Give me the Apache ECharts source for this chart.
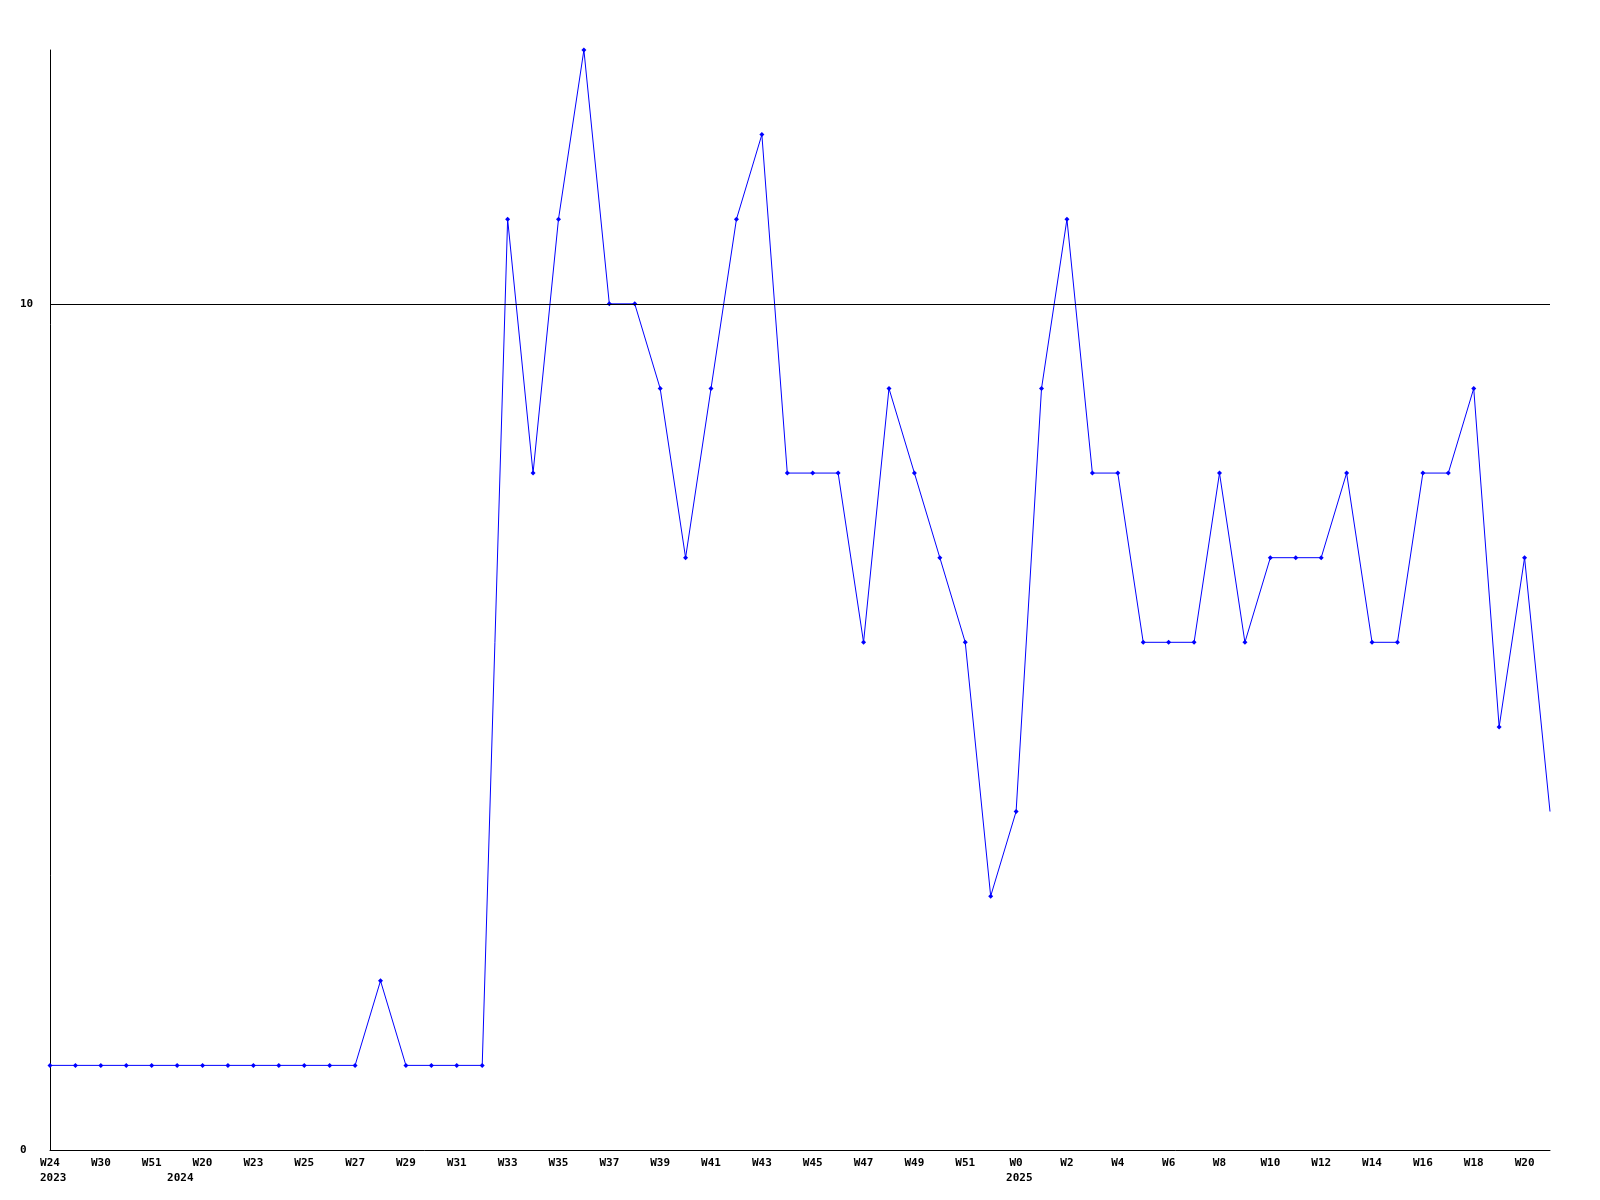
<!DOCTYPE html>
<html>
<head>
<meta charset="utf-8">
<script src="https://cdn.jsdelivr.net/npm/echarts@6/dist/echarts.min.js"></script>
<style>
html,body{margin:0;padding:0;background:#fff;}
#chart{width:1600px;height:1200px;}
</style>
</head>
<body>
<div id="chart"></div>
<script>
const weeks = ['W24','W27','W30','W40','W51','W10','W20','W22','W23','W24',
  'W25','W26','W27','W28','W29','W30','W31','W32','W33','W34',
  'W35','W36','W37','W38','W39','W40','W41','W42','W43','W44',
  'W45','W46','W47','W48','W49','W50','W51','W52','W0','W1',
  'W2','W3','W4','W5','W6','W7','W8','W9','W10','W11',
  'W12','W13','W14','W15','W16','W17','W18','W19','W20','W21'];
const yearIndex = [0, 5, 38];
const yearText = ['2023', '2024', '2025'];
const values = [1,1,1,1,1,1,1,1,1,1,
  1,1,1,2,1,1,1,1,11,8,
  11,13,10,10,9,7,9,11,12,8,
  8,8,6,9,8,7,6,3,4,9,
  11,8,8,6,6,6,8,6,7,7,
  7,8,6,6,8,8,9,5,7,4];
const yTicks = [0, 10];
const refLine = 10;

const chart = echarts.init(document.getElementById('chart'));
const font = '"DejaVu Sans Mono", "Liberation Mono", monospace';
const labelStyle = {color: '#000', fontFamily: font, fontWeight: 'bold', fontSize: 11};
chart.setOption({
  animation: false,
  backgroundColor: '#ffffff',
  grid: [
    {left: 50, right: 50, top: 50, bottom: 50, containLabel: false},
    {left: 40, right: 60, top: 50, bottom: 50, containLabel: false}
  ],
  xAxis: [{
    type: 'category',
    gridIndex: 0,
    data: weeks,
    boundaryGap: false,
    axisLine: {lineStyle: {color: '#000', width: 1}},
    axisTick: {show: false},
    axisLabel: Object.assign({
      interval: 1,
      margin: 6,
      lineHeight: 15,
      verticalAlign: 'top'
    }, labelStyle),
    splitLine: {show: false}
  }, {
    type: 'category',
    gridIndex: 1,
    data: weeks,
    boundaryGap: false,
    axisLine: {show: false},
    axisTick: {show: false},
    axisLabel: Object.assign({
      interval: 0,
      margin: 21,
      lineHeight: 15,
      align: 'left',
      verticalAlign: 'top',
      formatter: function (v, i) {
        const k = yearIndex.indexOf(i);
        return k >= 0 ? yearText[k] : '';
      }
    }, labelStyle),
    splitLine: {show: false}
  }],
  yAxis: [{
    type: 'value',
    gridIndex: 0,
    min: 0,
    max: 13,
    interval: 10,
    axisLine: {show: true, lineStyle: {color: '#000', width: 1}},
    axisTick: {show: false},
    axisLabel: Object.assign({
      margin: 30,
      align: 'left',
      showMaxLabel: false,
      formatter: function (v) { return yTicks.indexOf(v) >= 0 ? String(v) : ''; }
    }, labelStyle),
    splitLine: {show: false}
  }, {
    type: 'value',
    gridIndex: 1,
    min: 0,
    max: 13,
    show: false
  }],
  series: [{
    type: 'line',
    data: values.map(function (v, i) {
      return i === values.length - 1 ? {value: v, symbol: 'none'} : v;
    }),
    symbol: 'diamond',
    symbolSize: 5,
    showAllSymbol: true,
    itemStyle: {color: '#0000ff'},
    lineStyle: {color: '#0000ff', width: 1},
    z: 3
  }, {
    type: 'line',
    data: [],
    z: 5,
    markLine: {
      silent: true,
      symbol: 'none',
      label: {show: false},
      lineStyle: {color: '#000', width: 1, type: 'solid'},
      data: [{yAxis: refLine}]
    }
  }]
});
</script>
</body>
</html>
